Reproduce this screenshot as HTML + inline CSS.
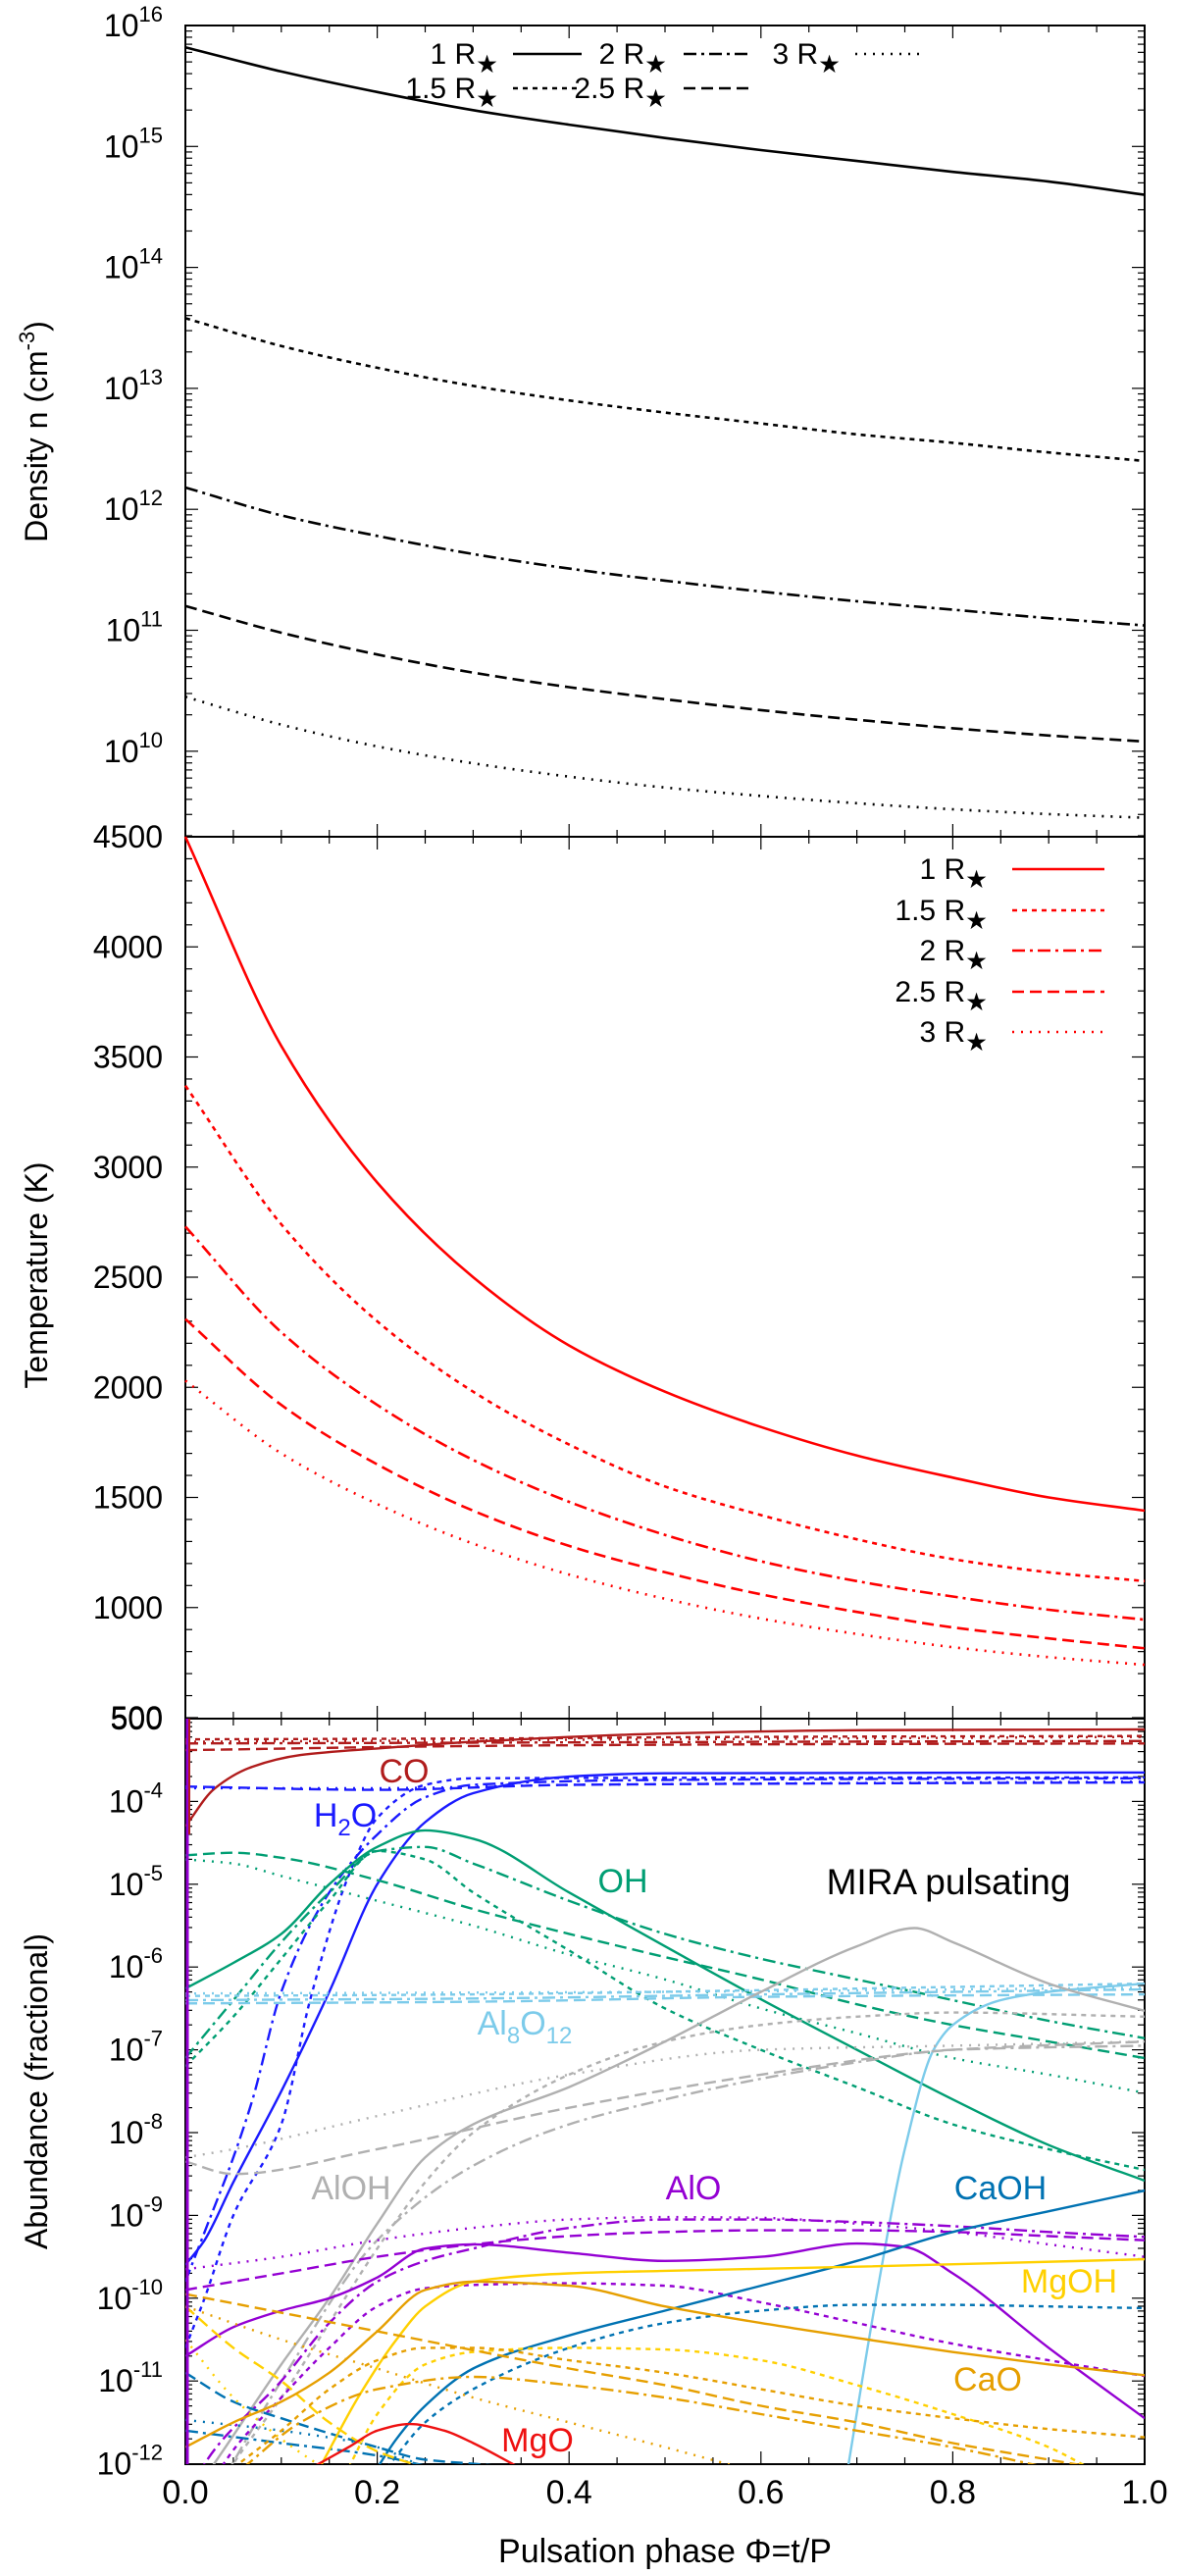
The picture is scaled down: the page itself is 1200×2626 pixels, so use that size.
<!DOCTYPE html>
<html><head><meta charset="utf-8"><style>
html,body{margin:0;padding:0;background:#fff;}
svg{display:block;font-family:"Liberation Sans",sans-serif;}
</style></head><body>
<svg id="fig" width="1200" height="2626" viewBox="0 0 1200 2626" xmlns="http://www.w3.org/2000/svg">
<defs><clipPath id="clipA"><rect x="189" y="1752" width="978" height="760"/></clipPath></defs>
<g id="g1"></g>
<g id="g2"></g>
<g id="g3"></g>
</svg>
<script>
// ---------- data ----------
const phaseGrid = [0,0.1,0.2,0.3,0.4,0.5,0.6,0.7,0.8,0.9,1.0];
const radii = ["1","1.5","2","2.5","3"];
// log10 density (cm^-3)
const dens1 = [15.82,15.62,15.45,15.30,15.18,15.07,14.97,14.88,14.79,14.71,14.60];
const dens15 = [13.58,13.35,13.17,13.02,12.90,12.80,12.71,12.62,12.55,12.47,12.40];
const dens2 = [12.18,11.95,11.78,11.63,11.51,11.41,11.32,11.24,11.17,11.10,11.04];
const dens25 = [11.20,10.98,10.80,10.65,10.53,10.43,10.34,10.26,10.19,10.13,10.08];
const dens3 = [10.45,10.22,10.04,9.90,9.79,9.70,9.63,9.57,9.52,9.48,9.45];
// temperature (K)
const temp1 = [4500,3550,2930,2500,2190,1980,1820,1690,1590,1500,1440];
const temp15 = [3370,2740,2300,1980,1740,1550,1420,1310,1220,1160,1120];
const temp2 = [2730,2250,1920,1670,1480,1330,1210,1120,1050,990,945];
const temp25 = [2310,1920,1650,1440,1280,1160,1060,980,910,860,815];
const temp3 = [2030,1700,1470,1290,1150,1040,950,880,820,775,740];
const densTicks = [16,15,14,13,12,11,10];
const tempTicks = [4500,4000,3500,3000,2500,2000,1500,1000,500];
const abTicks = [-4,-5,-6,-7,-8,-9,-10,-11,-12];
const xTicks = [0,0.2,0.4,0.6,0.8,1.0];
// abundance: [phase, log10 abundance] pairs
const CO_1 = [[0,-4.3],[0.03,-3.85],[0.07,-3.58],[0.12,-3.44],[0.2,-3.36],[0.3,-3.28],[0.5,-3.18],[0.7,-3.14],[1,-3.13]];
const CO_15 = [[0,-3.25],[0.3,-3.24],[0.6,-3.22],[1,-3.21]];
const CO_2 = [[0,-3.3],[0.3,-3.29],[0.6,-3.28],[1,-3.27]];
const CO_25 = [[0,-3.38],[0.3,-3.33],[0.6,-3.31],[1,-3.3]];
const CO_3 = [[0,-3.28],[0.5,-3.25],[1,-3.22]];
const H2O_1 = [[0,-9.6],[0.02,-9.3],[0.05,-8.6],[0.1,-7.5],[0.15,-6.3],[0.2,-5.0],[0.25,-4.25],[0.3,-3.9],[0.4,-3.7],[0.5,-3.66],[1,-3.65]];
const H2O_15 = [[0,-10.6],[0.02,-10.0],[0.05,-9.0],[0.1,-7.9],[0.13,-6.4],[0.17,-4.9],[0.2,-4.2],[0.25,-3.8],[0.3,-3.72],[1,-3.71]];
const H2O_2 = [[0,-9.8],[0.02,-9.2],[0.05,-8.3],[0.07,-7.6],[0.1,-6.3],[0.15,-5.1],[0.2,-4.4],[0.25,-3.95],[0.3,-3.8],[0.5,-3.74],[1,-3.72]];
const H2O_25 = [[0,-3.82],[0.2,-3.86],[0.4,-3.8],[1,-3.77]];
const H2O_3 = [[0,-3.84],[0.2,-3.84],[0.4,-3.8],[1,-3.76]];
const OH_1 = [[0,-6.26],[0.05,-5.95],[0.1,-5.6],[0.15,-5.0],[0.2,-4.55],[0.25,-4.35],[0.3,-4.45],[0.4,-5.1],[0.5,-5.75],[0.6,-6.39],[0.7,-7.0],[0.8,-7.6],[0.9,-8.15],[1,-8.58]];
const OH_15 = [[0,-7.2],[0.05,-6.6],[0.1,-5.9],[0.15,-5.2],[0.2,-4.6],[0.25,-4.7],[0.3,-5.1],[0.4,-5.8],[0.5,-6.5],[0.6,-7.0],[0.7,-7.45],[0.8,-7.9],[0.9,-8.2],[1,-8.45]];
const OH_2 = [[0,-7.1],[0.05,-6.4],[0.1,-5.7],[0.15,-5.1],[0.2,-4.6],[0.25,-4.55],[0.3,-4.75],[0.4,-5.2],[0.5,-5.6],[0.6,-5.9],[0.7,-6.15],[0.8,-6.4],[0.9,-6.65],[1,-6.86]];
const OH_25 = [[0,-4.65],[0.05,-4.62],[0.1,-4.68],[0.2,-4.95],[0.3,-5.3],[0.4,-5.6],[0.5,-5.88],[0.6,-6.15],[0.7,-6.45],[0.8,-6.7],[0.9,-6.9],[1,-7.1]];
const OH_3 = [[0,-4.7],[0.05,-4.75],[0.1,-4.9],[0.2,-5.2],[0.3,-5.5],[0.4,-5.85],[0.5,-6.15],[0.6,-6.5],[0.7,-6.8],[0.8,-7.1],[0.9,-7.3],[1,-7.52]];
const AL8_1 = [[0.69,-12.1],[0.72,-10],[0.75,-8.2],[0.78,-7.0],[0.8,-6.7],[0.85,-6.4],[0.9,-6.3],[1,-6.2]];
const AL8_15 = [[0,-6.35],[0.3,-6.33],[0.6,-6.28],[1,-6.2]];
const AL8_2 = [[0,-6.4],[0.3,-6.38],[0.6,-6.33],[1,-6.27]];
const AL8_25 = [[0,-6.44],[0.3,-6.42],[0.6,-6.36],[1,-6.33]];
const AL8_3 = [[0,-6.32],[0.5,-6.3],[1,-6.25]];
const ALOH_1 = [[0,-12.5],[0.03,-12],[0.1,-10.8],[0.15,-10],[0.2,-9.1],[0.25,-8.3],[0.3,-7.9],[0.4,-7.45],[0.5,-6.9],[0.6,-6.3],[0.7,-5.75],[0.76,-5.53],[0.8,-5.7],[0.9,-6.2],[1,-6.53]];
const ALOH_15 = [[0,-13],[0.05,-12],[0.1,-11.2],[0.15,-10.3],[0.2,-9.4],[0.25,-8.6],[0.3,-8.0],[0.4,-7.3],[0.5,-6.9],[0.6,-6.7],[0.7,-6.6],[0.8,-6.55],[1,-6.6]];
const ALOH_2 = [[0,-13],[0.1,-11],[0.2,-9.3],[0.3,-8.4],[0.4,-7.9],[0.5,-7.6],[0.6,-7.35],[0.7,-7.15],[0.8,-7.0],[1,-6.95]];
const ALOH_25 = [[0,-8.35],[0.05,-8.5],[0.2,-8.2],[0.4,-7.7],[0.6,-7.3],[0.8,-7.0],[1,-6.9]];
const ALOH_3 = [[0,-8.3],[0.05,-8.2],[0.2,-7.8],[0.4,-7.3],[0.6,-7.0],[0.8,-6.95],[1,-6.9]];
const ALO_1 = [[0,-10.7],[0.05,-10.35],[0.1,-10.15],[0.15,-10.0],[0.2,-9.75],[0.25,-9.4],[0.3,-9.35],[0.4,-9.45],[0.5,-9.55],[0.6,-9.5],[0.7,-9.34],[0.75,-9.38],[0.8,-9.7],[0.9,-10.6],[1,-11.45]];
const ALO_15 = [[0,-13],[0.04,-12],[0.1,-11.2],[0.15,-10.6],[0.2,-10.1],[0.25,-9.88],[0.3,-9.84],[0.4,-9.82],[0.5,-9.85],[0.6,-10.05],[0.7,-10.3],[0.8,-10.55],[0.9,-10.75],[1,-10.94]];
const ALO_2 = [[0,-12.5],[0.02,-12],[0.1,-11.0],[0.15,-10.3],[0.2,-9.8],[0.25,-9.55],[0.3,-9.4],[0.4,-9.15],[0.5,-9.05],[0.6,-9.05],[0.7,-9.08],[0.8,-9.13],[0.9,-9.2],[1,-9.26]];
const ALO_25 = [[0,-9.9],[0.1,-9.7],[0.2,-9.5],[0.3,-9.35],[0.4,-9.25],[0.5,-9.2],[0.6,-9.18],[0.7,-9.18],[0.8,-9.2],[0.9,-9.25],[1,-9.3]];
const ALO_3 = [[0,-9.65],[0.1,-9.5],[0.2,-9.3],[0.3,-9.15],[0.4,-9.05],[0.5,-9.02],[0.6,-9.03],[0.7,-9.1],[0.8,-9.2],[0.9,-9.35],[1,-9.5]];
const CAOH_1 = [[0.2,-12.05],[0.22,-11.7],[0.25,-11.3],[0.3,-10.85],[0.4,-10.45],[0.5,-10.15],[0.6,-9.85],[0.7,-9.55],[0.8,-9.2],[0.9,-8.95],[1,-8.7]];
const CAOH_15 = [[0.21,-12.05],[0.25,-11.5],[0.3,-11.1],[0.4,-10.6],[0.5,-10.3],[0.6,-10.15],[0.7,-10.08],[0.8,-10.08],[0.9,-10.1],[1,-10.12]];
const CAOH_2 = [[0,-11.6],[0.1,-11.75],[0.2,-11.9],[0.26,-12.05]];
const CAOH_25 = [[0,-10.9],[0.05,-11.25],[0.1,-11.45],[0.2,-11.8],[0.25,-11.95],[0.3,-12.0],[0.4,-12.1]];
const CAOH_3 = [[0,-11.47],[0.1,-11.6],[0.2,-11.8],[0.25,-12.05]];
const MGOH_1 = [[0.14,-12.05],[0.18,-11.2],[0.22,-10.5],[0.25,-10.1],[0.3,-9.8],[0.4,-9.7],[0.5,-9.67],[0.7,-9.62],[1,-9.53]];
const MGOH_15 = [[0.17,-12.05],[0.2,-11.4],[0.25,-10.8],[0.3,-10.65],[0.4,-10.6],[0.5,-10.62],[0.6,-10.75],[0.7,-11.05],[0.8,-11.4],[0.9,-11.8],[0.95,-12.1]];
const MGOH_25 = [[0,-10.1],[0.05,-10.6],[0.1,-11.0],[0.15,-11.5],[0.2,-11.85],[0.25,-12.05]];
const MGOH_3 = [[0,-10.5],[0.05,-11.2],[0.1,-11.7],[0.15,-12.1]];
const CAO_1 = [[0,-11.8],[0.05,-11.5],[0.1,-11.25],[0.15,-10.9],[0.2,-10.4],[0.25,-9.9],[0.3,-9.8],[0.4,-9.85],[0.5,-10.1],[0.6,-10.3],[0.7,-10.48],[0.8,-10.65],[0.9,-10.8],[1,-10.93]];
const CAO_15 = [[0.05,-12.05],[0.1,-11.6],[0.15,-11.1],[0.2,-10.75],[0.25,-10.6],[0.3,-10.6],[0.4,-10.75],[0.5,-10.9],[0.6,-11.1],[0.7,-11.3],[0.8,-11.45],[0.9,-11.58],[1,-11.68]];
const CAO_2 = [[0.06,-12.05],[0.12,-11.5],[0.2,-11.1],[0.3,-10.95],[0.4,-11.05],[0.5,-11.2],[0.6,-11.4],[0.7,-11.6],[0.8,-11.8],[0.9,-12.05]];
const CAO_25 = [[0,-9.95],[0.2,-10.4],[0.4,-10.85],[0.5,-11.05],[0.6,-11.3],[0.7,-11.5],[0.8,-11.75],[0.9,-11.95],[0.95,-12.05]];
const CAO_3 = [[0,-10.1],[0.1,-10.5],[0.2,-10.85],[0.3,-11.2],[0.4,-11.5],[0.5,-11.8],[0.58,-12.05]];
const MGO_1 = [[0.136,-12.02],[0.17,-11.8],[0.2,-11.6],[0.234,-11.52],[0.27,-11.6],[0.3,-11.75],[0.344,-12.02]];

// ---------- helpers ----------
const NS = "http://www.w3.org/2000/svg";
const X0 = 189, X1 = 1167;
const xs = p => X0 + p * (X1 - X0);
const yD = l => 26 + (16 - l) * 123.3;
const yT = t => 853 + (4500 - t) * 0.2245;
const yA = l => 1752 + (-3 - l) * 84.4;
function mk(parent, tag, attrs) {
  const e = document.createElementNS(NS, tag);
  for (const k in attrs) e.setAttribute(k, attrs[k]);
  parent.appendChild(e);
  return e;
}
function monoPath(pts) {
  const n = pts.length;
  if (n < 2) return "";
  const dx = [], m = [], t = [];
  for (let i = 0; i < n - 1; i++) { dx[i] = pts[i+1][0] - pts[i][0]; m[i] = (pts[i+1][1] - pts[i][1]) / dx[i]; }
  t[0] = m[0]; t[n-1] = m[n-2];
  for (let i = 1; i < n - 1; i++) {
    if (m[i-1] * m[i] <= 0) t[i] = 0;
    else { const w1 = 2*dx[i] + dx[i-1], w2 = dx[i] + 2*dx[i-1]; t[i] = (w1 + w2) / (w1 / m[i-1] + w2 / m[i]); }
  }
  let d = "M" + pts[0][0].toFixed(1) + "," + pts[0][1].toFixed(1);
  for (let i = 0; i < n - 1; i++) {
    const h = dx[i] / 3;
    d += "C" + (pts[i][0] + h).toFixed(1) + "," + (pts[i][1] + t[i]*h).toFixed(1) + " " +
         (pts[i+1][0] - h).toFixed(1) + "," + (pts[i+1][1] - t[i+1]*h).toFixed(1) + " " +
         pts[i+1][0].toFixed(1) + "," + pts[i+1][1].toFixed(1);
  }
  return d;
}
const DASH = ["", "5,5", "13,5,3,5", "12,6", "2,7"];
const STYLE_NAMES = ["1r-solid", "1p5r-dotted", "2r-dashdot", "2p5r-dashed", "3r-dotted"];

function frame(g, yTop, yBot) {
  const r = mk(g, "rect", {x: X0, y: yTop, width: X1 - X0, height: yBot - yTop, fill: "none", stroke: "#000", "stroke-width": 2});
  
  
  for (let k = 0; k <= 20; k++) {
    const p = k * 0.05, x = xs(p), L = (k % 4 === 0) ? 13 : 7;
    mk(g, "line", {x1: x, y1: yTop, x2: x, y2: yTop + L, stroke: "#000", "stroke-width": 1.2});
    mk(g, "line", {x1: x, y1: yBot, x2: x, y2: yBot - L, stroke: "#000", "stroke-width": 1.2});
  }
}
function yTick(g, y, major) {
  const L = major ? 13 : 7;
  mk(g, "line", {x1: X0, y1: y, x2: X0 + L, y2: y, stroke: "#000", "stroke-width": 1.2});
  mk(g, "line", {x1: X1, y1: y, x2: X1 - L, y2: y, stroke: "#000", "stroke-width": 1.2});
}
function powLabel(g, y, exp, name) {
  const t = mk(g, "text", {x: 166, y: y + 11, "text-anchor": "end", "font-size": 32});
  
  
  t.appendChild(document.createTextNode("10"));
  const s = mk(t, "tspan", {dy: -15, "font-size": 22});
  s.textContent = String(exp);
}
function yTitle(g, cx, cy, parts, name) {
  const t = mk(g, "text", {transform: "translate(" + cx + "," + cy + ") rotate(-90)", "text-anchor": "middle", "font-size": 32});
  
  
  return t;
}
function legendText(g, xRight, y, r, name, fs) {
  const t = mk(g, "text", {x: xRight, y: y + 10, "text-anchor": "end", "font-size": fs});
  
  
  t.appendChild(document.createTextNode(r + " R"));
  const s = mk(t, "tspan", {dy: 9, "font-size": fs * 0.85});
  s.textContent = "★";
}

// ---------- panel 1: density ----------
const g1 = document.getElementById("g1");
frame(g1, 26, 853);
for (let d = 16; d >= 9; d--) {
  for (let k = 1; k <= 9; k++) {
    const y = yD(d + Math.log10(k) - 0);
    if (y > 26 - 0.5 && y < 853.5) yTick(g1, y, k === 1);
  }
}
densTicks.forEach(e => powLabel(g1, yD(e), e, "density-tick-label"));
{
  const t = yTitle(g1, 48, 440, null, "density-axis-title");
  t.appendChild(document.createTextNode("Density n (cm"));
  const s = mk(t, "tspan", {dy: -13, "font-size": 22}); s.textContent = "-3";
  const s2 = mk(t, "tspan", {dy: 13}); s2.textContent = ")";
}
[dens1, dens15, dens2, dens25, dens3].forEach((arr, i) => {
  const pts = phaseGrid.map((p, j) => [xs(p), yD(arr[j])]);
  const path = mk(g1, "path", {d: monoPath(pts), fill: "none", stroke: "#000", "stroke-width": 2.6, "stroke-dasharray": DASH[i]});
  
  
});
// legend 1
{
  const lg = mk(g1, "g", {});
  
  
  const pos = [[508, 55, 523], [508, 90, 523], [680, 55, 697], [680, 90, 697], [857, 55, 872]];
  [0, 1, 2, 3, 4].forEach(i => {
    const [xr, y, lx] = pos[i];
    legendText(lg, xr, y, radii[i], "density-legend-label", 30);
    const ln = mk(lg, "line", {x1: lx, y1: y, x2: lx + 70, y2: y, stroke: "#000", "stroke-width": 2.6, "stroke-dasharray": DASH[i]});
    
    
  });
}

// ---------- panel 2: temperature ----------
const g2 = document.getElementById("g2");
frame(g2, 853, 1752);
for (let T = 500; T <= 4500; T += 100) yTick(g2, yT(T), T % 500 === 0);
tempTicks.forEach(T => {
  const t = mk(g2, "text", {x: 166, y: yT(T) + 11, "text-anchor": "end", "font-size": 32});
  
  
  t.textContent = String(T);
});
{
  const t = yTitle(g2, 48, 1300, null, "temperature-axis-title");
  t.textContent = "Temperature (K)";
}
[temp1, temp15, temp2, temp25, temp3].forEach((arr, i) => {
  const pts = phaseGrid.map((p, j) => [xs(p), yT(arr[j])]);
  const path = mk(g2, "path", {d: monoPath(pts), fill: "none", stroke: "#ff0000", "stroke-width": 2.6, "stroke-dasharray": DASH[i]});
  
  
});
{
  const lg = mk(g2, "g", {});
  
  
  [886, 928, 969, 1011, 1052].forEach((y, i) => {
    legendText(lg, 1007, y, radii[i], "temperature-legend-label", 30);
    const ln = mk(lg, "line", {x1: 1032, y1: y, x2: 1126, y2: y, stroke: "#ff0000", "stroke-width": 2.6, "stroke-dasharray": DASH[i]});
    
    
  });
}

// ---------- panel 3: abundance ----------
const g3 = document.getElementById("g3");
frame(g3, 1752, 2512);
for (let d = -3; d >= -12; d--) {
  for (let k = 1; k <= 9; k++) {
    const y = yA(d - 1 + Math.log10(k));
    if (y >= 1752 && y <= 2512) yTick(g3, y, k === 1);
  }
}
abTicks.forEach(e => powLabel(g3, yA(e), e, "abundance-tick-label"));
{
  const t = mk(g3, "text", {x: 166, y: 1752 + 11, "text-anchor": "end", "font-size": 32});
  
  
  t.textContent = "500";
}
{
  const t = yTitle(g3, 48, 2132, null, "abundance-axis-title");
  t.textContent = "Abundance (fractional)";
}
const species = [
  ["co", "#b01c1c", [CO_1, CO_15, CO_2, CO_25, CO_3]],
  ["h2o", "#1a1aff", [H2O_1, H2O_15, H2O_2, H2O_25, H2O_3]],
  ["oh", "#009e73", [OH_1, OH_15, OH_2, OH_25, OH_3]],
  ["al8o12", "#7ccbea", [AL8_1, AL8_15, AL8_2, AL8_25, AL8_3]],
  ["aloh", "#b0b0b0", [ALOH_1, ALOH_15, ALOH_2, ALOH_25, ALOH_3]],
  ["alo", "#9400d3", [ALO_1, ALO_15, ALO_2, ALO_25, ALO_3]],
  ["caoh", "#0072b2", [CAOH_1, CAOH_15, CAOH_2, CAOH_25, CAOH_3]],
  ["mgoh", "#ffd000", [MGOH_1, MGOH_15, MGOH_25, MGOH_3]],
  ["cao", "#e69f00", [CAO_1, CAO_15, CAO_2, CAO_25, CAO_3]],
  ["mgo", "#ee1111", [MGO_1]]
];
const cg = mk(g3, "g", {"clip-path": "url(#clipA)"});


species.forEach(([nm, col, list]) => {
  list.forEach((arr, i) => {
    let si = i;
    if (nm === "mgoh" && i >= 2) si = i + 1;
    const pts = arr.map(([p, l]) => [xs(p), yA(l)]);
    const path = mk(cg, "path", {d: monoPath(pts), fill: "none", stroke: col, "stroke-width": 2.4, "stroke-dasharray": DASH[si]});
    
    
  });
});
{
  const v = mk(cg, "line", {x1: X0 + 2, y1: 1752, x2: X0 + 2, y2: 2512, stroke: "#9400d3", "stroke-width": 3});
  
  
  const v2 = mk(cg, "line", {x1: X0 + 4, y1: 1752, x2: X0 + 4, y2: 1870, stroke: "#b01c1c", "stroke-width": 2});
  
  
}
const labels = [
  ["CO", 412, 1805, "#b01c1c", "co-label"],
  ["OH", 635, 1917, "#009e73", "oh-label"],
  ["AlOH", 358, 2230, "#b0b0b0", "aloh-label"],
  ["AlO", 707, 2230, "#9400d3", "alo-label"],
  ["CaOH", 1020, 2230, "#0072b2", "caoh-label"],
  ["MgOH", 1090, 2325, "#ffd000", "mgoh-label"],
  ["CaO", 1007, 2425, "#e69f00", "cao-label"],
  ["MgO", 548, 2487, "#ee1111", "mgo-label"]
];
labels.forEach(([s, x, y, c, n]) => {
  const t = mk(g3, "text", {x: x, y: y + 12, "text-anchor": "middle", "font-size": 34, fill: c});
  
  
  t.textContent = s;
});
{
  const t = mk(g3, "text", {x: 352, y: 1862, "text-anchor": "middle", "font-size": 34, fill: "#1a1aff"});
  
  
  t.appendChild(document.createTextNode("H"));
  const s = mk(t, "tspan", {dy: 9, "font-size": 24}); s.textContent = "2";
  const s2 = mk(t, "tspan", {dy: -9}); s2.textContent = "O";
}
{
  const t = mk(g3, "text", {x: 535, y: 2074, "text-anchor": "middle", "font-size": 34, fill: "#7ccbea"});
  
  
  t.appendChild(document.createTextNode("Al"));
  const s = mk(t, "tspan", {dy: 9, "font-size": 24}); s.textContent = "8";
  const s2 = mk(t, "tspan", {dy: -9}); s2.textContent = "O";
  const s3 = mk(t, "tspan", {dy: 9, "font-size": 24}); s3.textContent = "12";
}
{
  const t = mk(g3, "text", {x: 967, y: 1931, "text-anchor": "middle", "font-size": 37, fill: "#000"});
  
  
  t.textContent = "MIRA pulsating";
}
xTicks.forEach(p => {
  const t = mk(g3, "text", {x: xs(p), y: 2552, "text-anchor": "middle", "font-size": 34});
  
  
  t.textContent = p.toFixed(1);
});
{
  const t = mk(g3, "text", {x: 678, y: 2612, "text-anchor": "middle", "font-size": 34});
  
  
  t.textContent = "Pulsation phase Φ=t/P";
}
</script>
</body></html>
